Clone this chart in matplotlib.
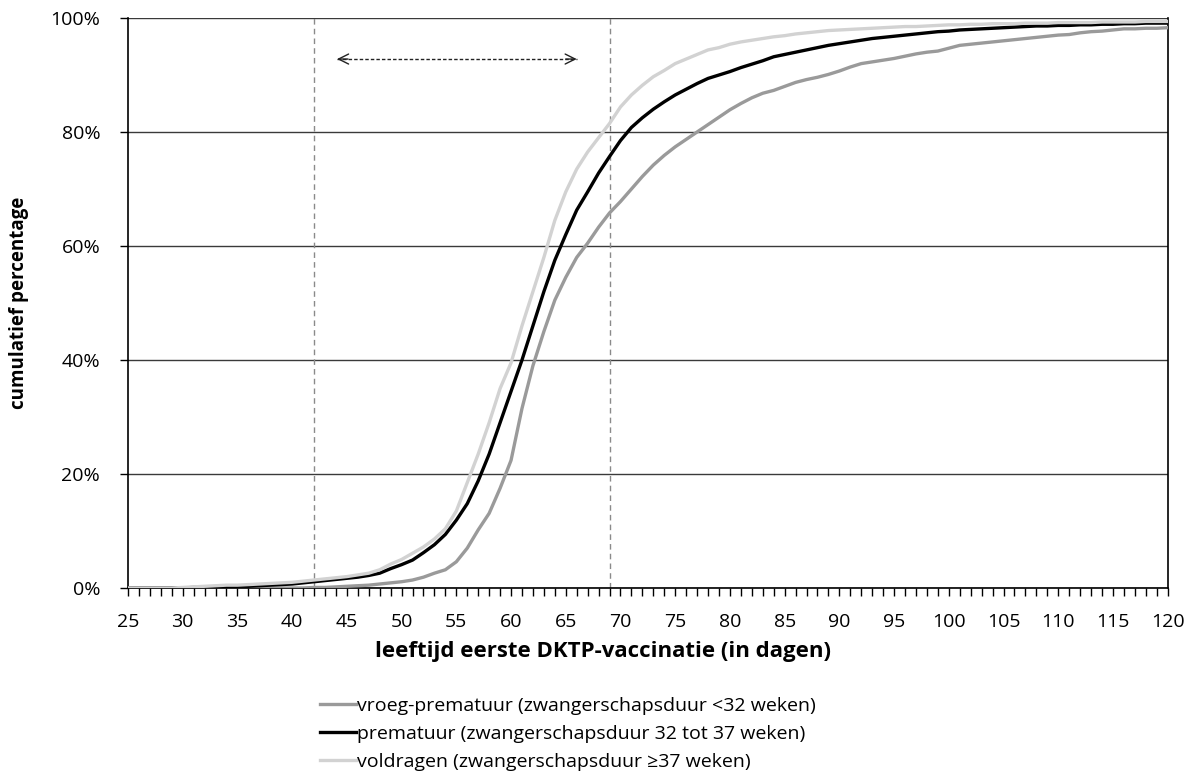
import numpy as np
import matplotlib
matplotlib.use("Agg")
import matplotlib.pyplot as plt
from matplotlib.ticker import MultipleLocator, FuncFormatter

plt.rcParams['font.family'] = ['Open Sans', 'DejaVu Sans']

days = list(range(25, 121))

vroeg_prematuur = [
    0, 0, 0, 0, 0, 0, 0, 0, 0, 0,            # 25-34
    0, 0, 0, 0, 0, 0, 0, 0.1, 0.1, 0.2,      # 35-44
    0.3, 0.4, 0.5, 0.7, 0.9, 1.1, 1.4, 1.9, 2.6, 3.2,   # 45-54
    4.6, 7.0, 10.2, 13.1, 17.5, 22.4, 31.5, 39.0, 45.0, 50.5,  # 55-64
    54.5, 58.0, 60.5, 63.3, 65.8, 67.8, 70.0, 72.2, 74.2, 75.9,  # 65-74
    77.4, 78.7, 80.0, 81.3, 82.6, 83.9, 85.0, 86.0, 86.8, 87.3,  # 75-84
    88.0, 88.7, 89.2, 89.6, 90.1, 90.7, 91.4, 92.0, 92.3, 92.6,  # 85-94
    92.9, 93.3, 93.7, 94.0, 94.2, 94.7, 95.2, 95.4, 95.6, 95.8,  # 95-104
    96.0, 96.2, 96.4, 96.6, 96.8, 97.0, 97.1, 97.4, 97.6, 97.7,  # 105-114
    97.9, 98.1, 98.1, 98.2, 98.2, 98.3,                          # 115-120
]

prematuur = [
    0, 0, 0, 0, 0, 0, 0.1, 0.1, 0.2, 0.2,    # 25-34
    0.3, 0.3, 0.4, 0.5, 0.6, 0.7, 0.9, 1.1, 1.3, 1.5,   # 35-44
    1.7, 1.9, 2.2, 2.6, 3.4, 4.1, 4.9, 6.2, 7.6, 9.4,   # 45-54
    11.9, 14.8, 18.8, 23.5, 29.0, 34.5, 40.0, 46.0, 52.0, 57.5,  # 55-64
    62.0, 66.3, 69.5, 72.8, 75.7, 78.5, 80.8, 82.5, 84.0, 85.3,  # 65-74
    86.5, 87.5, 88.5, 89.4, 90.0, 90.6, 91.3, 91.9, 92.5, 93.2,  # 75-84
    93.6, 94.0, 94.4, 94.8, 95.2, 95.5, 95.8, 96.1, 96.4, 96.6,  # 85-94
    96.8, 97.0, 97.2, 97.4, 97.6, 97.7, 97.9, 98.0, 98.1, 98.2,  # 95-104
    98.3, 98.4, 98.5, 98.6, 98.6, 98.7, 98.7, 98.8, 98.8, 98.9,  # 105-114
    98.9, 99.0, 99.0, 99.1, 99.1, 99.1,                          # 115-120
]

voldragen = [
    0, 0, 0, 0, 0, 0.1, 0.2, 0.3, 0.4, 0.5,  # 25-34
    0.5, 0.6, 0.7, 0.8, 0.9, 1.0, 1.2, 1.4, 1.6, 1.8,   # 35-44
    2.0, 2.3, 2.6, 3.2, 4.2, 5.0, 6.1, 7.2, 8.6, 10.4,  # 45-54
    13.5, 18.5, 23.5, 29.0, 35.0, 39.5, 46.0, 52.0, 58.0, 64.5,  # 55-64
    69.5, 73.5, 76.5, 79.0, 81.5, 84.4, 86.5, 88.2, 89.7, 90.8,  # 65-74
    92.0, 92.8, 93.6, 94.4, 94.8, 95.4, 95.8, 96.1, 96.4, 96.7,  # 75-84
    96.9, 97.2, 97.4, 97.6, 97.8, 97.9, 98.0, 98.1, 98.2, 98.3,  # 85-94
    98.4, 98.5, 98.5, 98.6, 98.7, 98.8, 98.8, 98.9, 98.9, 99.0,  # 95-104
    99.0, 99.0, 99.1, 99.1, 99.1, 99.2, 99.2, 99.2, 99.2, 99.3,  # 105-114
    99.3, 99.3, 99.3, 99.4, 99.4, 99.4,                          # 115-120
]

series_labels = [
    "vroeg-prematuur (zwangerschapsduur <32 weken)",
    "prematuur (zwangerschapsduur 32 tot 37 weken)",
    "voldragen (zwangerschapsduur \u226537 weken)",
]
series_colors = ["#9a9a9a", "#000000", "#d2d2d2"]

ref_days = [42, 69]          # dashed reference lines
arrow_days = [44.1, 66.0]    # double-headed dashed arrow
arrow_level = 92.8

fig = plt.figure(figsize=(11.84, 7.81), dpi=100)
ax = fig.add_axes([128/1184, 1 - 588/781, (1167.7 - 128)/1184, (588 - 18)/781])

for vals, lab, col in zip([vroeg_prematuur, prematuur, voldragen], series_labels, series_colors):
    ax.plot(days, vals, color=col, lw=2.4, label=lab, solid_joinstyle='round', zorder=3)

for d in ref_days:
    ax.axvline(d, color="#8a8a8a", lw=1.0, ls=(0, (4, 3)), zorder=2)

ax.plot(arrow_days, [arrow_level, arrow_level], color="#222222", lw=1.0, ls=(0, (2.5, 1.5)), zorder=2)
ax.annotate("", xy=(arrow_days[0], arrow_level), xytext=(arrow_days[0] + 1.0, arrow_level),
            arrowprops=dict(arrowstyle="->", lw=1.0, color="#222222", mutation_scale=18,
                            shrinkA=0, shrinkB=0))
ax.annotate("", xy=(arrow_days[1], arrow_level), xytext=(arrow_days[1] - 1.0, arrow_level),
            arrowprops=dict(arrowstyle="->", lw=1.0, color="#222222", mutation_scale=18,
                            shrinkA=0, shrinkB=0))

ax.set_xlim(25, 120)
ax.set_ylim(0, 100)
ax.yaxis.set_major_locator(MultipleLocator(20))
ax.yaxis.set_major_formatter(FuncFormatter(lambda v, p: f"{v:.0f}%"))
ax.xaxis.set_major_locator(MultipleLocator(5))
ax.xaxis.set_minor_locator(MultipleLocator(1))
ax.grid(axis='y', color="#3a3a3a", lw=1.0, zorder=1)
ax.set_axisbelow(True)

for s in ['left', 'bottom', 'right']:
    ax.spines[s].set_color("#000000")
    ax.spines[s].set_linewidth(1.2)
ax.spines['top'].set_visible(False)

ax.tick_params(axis='x', which='both', direction='out', length=6, width=1, pad=12, labelsize=14)
ax.tick_params(axis='y', which='major', direction='out', length=6, width=1, pad=14, labelsize=14)

ax.set_xlabel("leeftijd eerste DKTP-vaccinatie (in dagen)", fontsize=16, fontweight='bold')
ax.xaxis.set_label_coords((603 - 128) / 1039.7, -(641 - 588) / 570)
ax.set_ylabel("cumulatief percentage", fontsize=13.5, fontweight='bold')
ax.yaxis.set_label_coords(-(128 - 29) / 1039.7, 0.5)

fig.legend(loc='upper left', bbox_to_anchor=(320/1184, 1 - 697/781), frameon=False,
           fontsize=14, handlelength=1.85, handletextpad=0.05, labelspacing=0.52,
           borderpad=0, borderaxespad=0)

fig.savefig("out.png", dpi=100)
